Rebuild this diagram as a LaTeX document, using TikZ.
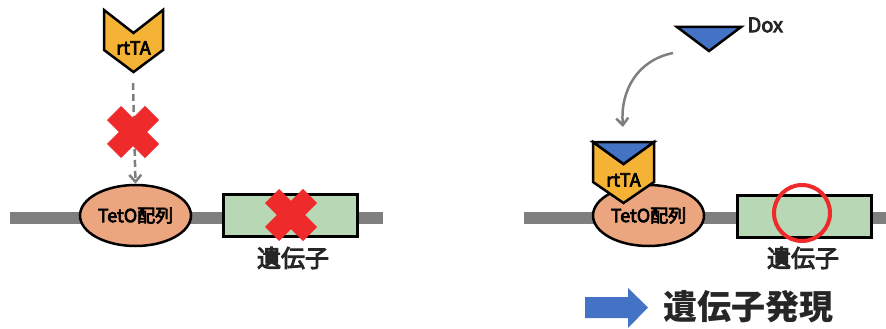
\documentclass[tikz,border=0pt]{standalone}
\usepackage{fontspec}
\setmainfont{Noto Sans CJK JP}
\newfontfamily\medjp{Noto Sans CJK JP}[FakeBold=4]
\usetikzlibrary{arrows.meta,shapes.geometric}
\definecolor{barg}{HTML}{7F7F80}
\definecolor{rtta}{HTML}{F5B335}
\definecolor{teto}{HTML}{EBA680}
\definecolor{genec}{HTML}{B8D7B4}
\definecolor{xred}{HTML}{EE2A2B}
\definecolor{doxb}{HTML}{4472C4}
\definecolor{txt}{HTML}{262626}
\tikzset{
  dna/.style={draw=barg, line width=12pt},
  tetobox/.style={ellipse, draw=black, line width=2.5pt, fill=teto, minimum width=111pt, minimum height=61pt, inner sep=0pt, font=\medjp\fontsize{18}{18}\selectfont, text=black},
  genebox/.style={draw=black, line width=3pt, fill=genec, minimum width=134pt, minimum height=42pt, inner sep=0pt},
  chev/.style={draw=black, line width=2.5pt, fill=rtta, line join=miter},
  dox/.style={draw=black, line width=2.5pt, fill=doxb, line join=miter},
  crossline/.style={draw=xred, line width=20pt},
  lbl/.style={font=\medjp\fontsize{24}{24}\selectfont, text=txt},
  sml/.style={font=\medjp\fontsize{18}{18}\selectfont, text=black},
  garrow/.style={draw=barg, line width=2.5pt, -{Straight Barb[length=7pt,width=12pt,line width=2.5pt]}},
}
\begin{document}
\begin{tikzpicture}[x=1pt,y=-1pt]
\useasboundingbox (0,0) rectangle (886,329);
% ---------- left panel ----------
\draw[dna] (10,218) -- (383,218);
\node[tetobox] (tetoL) at (135.5,215.5) {TetO配列};
\node[genebox] (geneL) at (290.5,215.5) {};
\node[lbl] (geneLlbl) at (293,258) {遺伝子};
\draw[chev] (104,10) -- (133.5,33) -- (163,10) -- (163,50) -- (133.5,72) -- (104,50) -- cycle;
\node[sml] (rttaL) at (133.5,48) {rtTA};
\coordinate (dashS) at (133,83);
\draw[garrow, dash pattern=on 7pt off 4pt] (dashS) -- (tetoL.north);
\draw[crossline] (114,113) -- (152,151) (114,151) -- (152,113);
\draw[crossline] (272,196) -- (310,234) (272,234) -- (310,196);
% ---------- right panel ----------
\draw[dna] (524,218) -- (886,218);
\node[tetobox] (tetoR) at (648.5,215.5) {\raisebox{-5pt}{TetO配列}};
\node[genebox] (geneR) at (804,216) {};
\node[lbl] (geneRlbl) at (803,258) {遺伝子};
\draw[draw=xred, line width=4pt] (802,213) circle (28pt);
% Dox
\draw[dox] (677,27) -- (741,27) -- (709,51) -- cycle;
\node[sml, anchor=west, font=\medjp\fontsize{20}{20}\selectfont, text=txt] (doxlbl) at (744,25) {Dox};
\coordinate (curveS) at (673,53);
\coordinate (curveE) at (623,127);
\draw[garrow] (curveS) .. controls (638,60) and (620,90) .. (curveE);
% bound rtTA
\draw[chev] (593,142) -- (623.5,164) -- (654,142) -- (654,182) -- (623.5,203) -- (593,182) -- cycle;
\draw[dox] (593,142) -- (654,142) -- (623.5,164) -- cycle;
\node[sml] (rttaR) at (623.5,180) {rtTA};
% expression arrow
\fill[doxb] (585,297) -- (628,297) -- (628,288) -- (648,307.5) -- (628,328) -- (628,318) -- (585,318) -- cycle;
\node[anchor=west, font=\fontsize{34}{34}\selectfont\bfseries, text=txt] (expr) at (660,307) {遺伝子発現};
\end{tikzpicture}
\end{document}
